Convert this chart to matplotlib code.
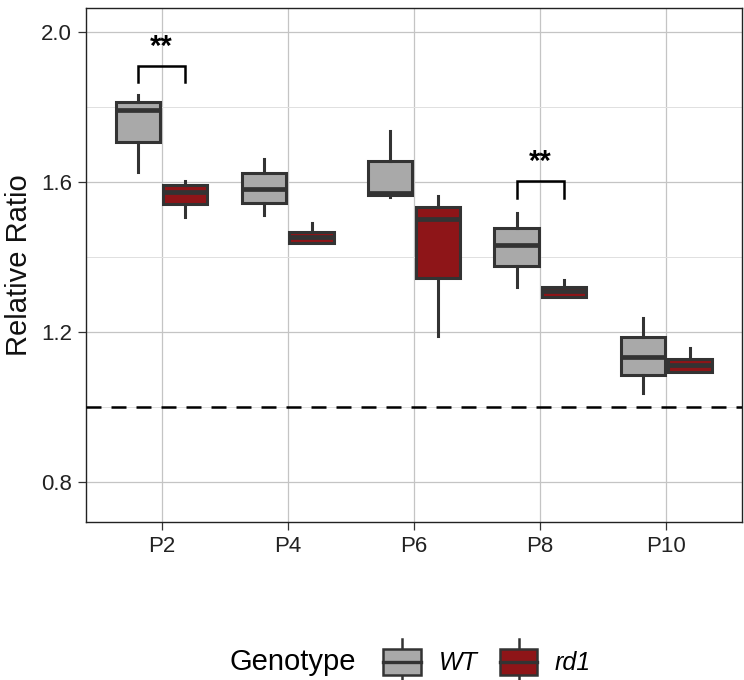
import matplotlib
matplotlib.use("Agg")
import matplotlib.pyplot as plt
from matplotlib.legend_handler import HandlerBase
from matplotlib.patches import Rectangle
from matplotlib.lines import Line2D
from matplotlib.offsetbox import HPacker

plt.rcParams['font.family'] = ['Liberation Sans', 'DejaVu Sans']

categories = ["P2", "P4", "P6", "P8", "P10"]
genotypes = ["WT", "rd1"]
colors = {"WT": "#A9A9A9", "rd1": "#8E1518"}

# whisker low, q1, median, q3, whisker high
wt_stats = [
    (1.627, 1.707, 1.792, 1.813, 1.832),
    (1.512, 1.544, 1.581, 1.624, 1.661),
    (1.560, 1.565, 1.571, 1.656, 1.736),
    (1.320, 1.376, 1.432, 1.477, 1.517),
    (1.037, 1.085, 1.133, 1.187, 1.237),
]
rd1_stats = [
    (1.507, 1.541, 1.574, 1.592, 1.603),
    (1.437, 1.437, 1.453, 1.467, 1.491),
    (1.189, 1.344, 1.501, 1.533, 1.563),
    (1.293, 1.293, 1.309, 1.320, 1.339),
    (1.093, 1.093, 1.112, 1.128, 1.157),
]
reference_line = 1.0
# significance brackets: (category index, bracket top, leg bottom, label y, label)
sig = [(0, 1.909, 1.867, 1.960, "**"), (3, 1.603, 1.557, 1.654, "**")]

edge = "#333333"
lw = 2.2

fig = plt.figure(figsize=(7.44, 6.8), dpi=100)
ax = fig.add_axes([86/744, 1-522/680, 656/744, 514/680])

def mk(s):
    return dict(whislo=s[0], q1=s[1], med=s[2], q3=s[3], whishi=s[4], fliers=[])

offset = 0.1875
bw = 0.35
for g, stats, sgn in [("WT", wt_stats, -1), ("rd1", rd1_stats, 1)]:
    pos = [i + 1 + sgn * offset for i in range(len(categories))]
    ax.bxp([mk(s) for s in stats], positions=pos, widths=bw, patch_artist=True,
           showcaps=False, showfliers=False,
           boxprops=dict(facecolor=colors[g], edgecolor=edge, linewidth=lw),
           medianprops=dict(color=edge, linewidth=lw + 1.2, solid_capstyle='butt'),
           whiskerprops=dict(color=edge, linewidth=lw), zorder=3)

ax.axhline(reference_line, color="black", linewidth=1.8, dashes=(6, 4), zorder=4)

for ci, top, leg, ty, lab in sig:
    x0 = ci + 1 - offset
    x1 = ci + 1 + offset
    ax.plot([x0, x0, x1, x1], [leg, top, top, leg], color="black", linewidth=1.8,
            solid_joinstyle='miter', zorder=5)
    ax.text(ci + 1, ty, lab, ha="center", va="center", fontsize=21,
            fontweight="bold", color="black")

ax.set_xlim(0.4, 5.6)
ax.set_ylim(0.693, 2.064)
ax.set_xticks(range(1, len(categories) + 1))
ax.set_xticklabels(categories)
ax.set_yticks([0.8, 1.2, 1.6, 2.0])
ax.set_yticklabels(["0.8", "1.2", "1.6", "2.0"])
ax.set_yticks([1.0, 1.4, 1.8], minor=True)
ax.tick_params(axis="both", which="major", labelsize=16, colors="#333333",
               labelcolor="#222222", length=6, width=0.9, pad=4)
ax.tick_params(axis="y", which="minor", length=0)
ax.grid(True, which="major", color="#C4C4C4", linewidth=0.9, zorder=0)
ax.grid(True, which="minor", axis="y", color="#E0E0E0", linewidth=0.7, zorder=0)
ax.set_axisbelow(True)
for sp in ax.spines.values():
    sp.set_color("#222222")
    sp.set_linewidth(1.0)
ax.set_ylabel("Relative Ratio", fontsize=21, color="#111111", labelpad=6)


class BoxHandler(HandlerBase):
    def __init__(self, fc):
        super().__init__()
        self.fc = fc

    def create_artists(self, legend, orig_handle, xdescent, ydescent, width,
                       height, fontsize, trans):
        cx = width / 2 - xdescent
        bh = height * 1.0
        y0 = -ydescent + (height - bh) / 2
        r = Rectangle((-xdescent, y0), width, bh, facecolor=self.fc,
                      edgecolor=edge, linewidth=1.8, transform=trans)
        med = Line2D([-xdescent, -xdescent + width], [y0 + bh / 2] * 2,
                     color=edge, linewidth=2.4, transform=trans)
        w1 = Line2D([cx, cx], [y0 + bh, y0 + bh + height * 0.4], color=edge,
                    linewidth=1.8, transform=trans)
        w2 = Line2D([cx, cx], [y0, y0 - height * 0.4], color=edge,
                    linewidth=1.8, transform=trans)
        return [w1, w2, r, med]


h_wt = Rectangle((0, 0), 1, 1)
h_rd = Rectangle((0, 0), 1, 1)
leg = fig.legend([h_wt, h_rd], genotypes, loc="center",
                 bbox_to_anchor=(410/744, 1-662/680), ncol=2, frameon=False,
                 handler_map={h_wt: BoxHandler(colors["WT"]),
                              h_rd: BoxHandler(colors["rd1"])},
                 title="Genotype", fontsize=18, title_fontsize=21,
                 handlelength=1.5, handleheight=1.2, handletextpad=0.7,
                 columnspacing=0.9)
for t in leg.get_texts():
    t.set_fontstyle("italic")
title_box = leg._legend_title_box
handle_box = leg._legend_handle_box
leg._legend_box._children = [HPacker(pad=0, sep=20, align="center",
                                     children=[title_box, handle_box])]

fig.savefig("out.png", dpi=100)
